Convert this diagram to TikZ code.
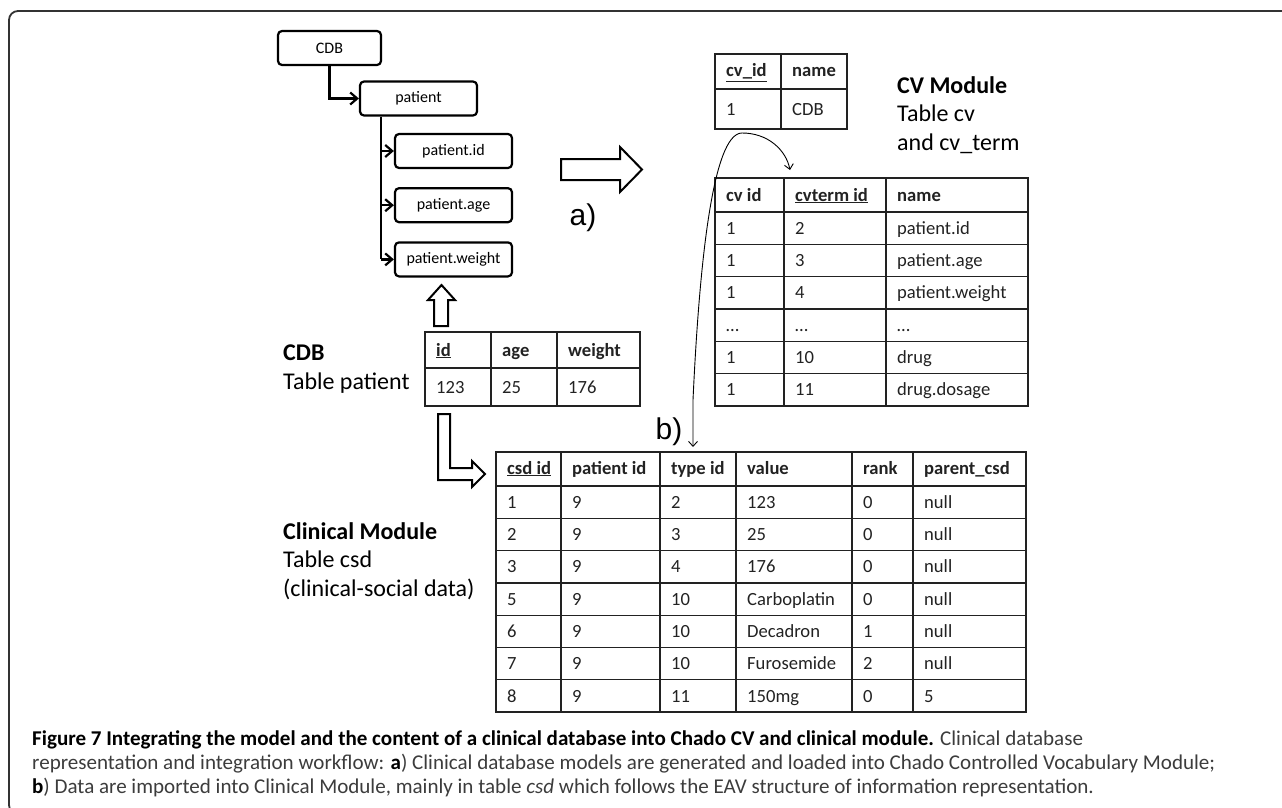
\documentclass[tikz,border=0pt]{standalone}
\usepackage{fontspec}
\setmainfont{Carlito}
\newfontfamily\steplabelfont{Liberation Sans}
\usetikzlibrary{arrows.meta,positioning}
\definecolor{inkgray}{HTML}{222222}
\definecolor{capgray}{HTML}{3C3C3C}
\tikzset{
  treebox/.style={draw, rounded corners=4pt, line width=2.2pt, minimum width=117pt, minimum height=34pt, font=\fontsize{16}{19}\selectfont},
  treearrow/.style={line width=2.2pt, -{Straight Barb[length=7pt,width=12pt]}},
  tablerule/.style={draw=inkgray, line width=1.3pt},
  headrule/.style={draw=inkgray, line width=2.6pt},
  cell/.style={anchor=base west, inner sep=0pt, text=inkgray, font=\fontsize{18.6}{21}\selectfont},
  headcell/.style={cell, font=\fontsize{18.6}{21}\selectfont\bfseries},
  blockarrow/.style={draw, line width=2pt, line join=miter, fill=white},
  modlabel/.style={anchor=north west, inner sep=0pt, align=left, font=\fontsize{24}{28.5}\selectfont},
  steplabel/.style={inner sep=0pt, font=\steplabelfont\fontsize{30}{32}\selectfont}
}
\begin{document}
\begin{tikzpicture}[x=1pt, y=-1pt]
\useasboundingbox (0,0) rectangle (1282,808);
\draw[line width=1.8pt, draw=black!80, rounded corners=9pt] (1282,11) -| (9,814) -- (40,814);

\node[treebox, minimum width=103pt] (cdb) at (329.5,48) {CDB};
\node[treebox] (patient) at (418.5,98.5) {patient};
\node[treebox] (pid) at (453.5,151) {patient.id};
\node[treebox, below=18pt of pid] (page) {patient.age};
\node[treebox, below=18pt of page] (pweight) {patient.weight};
\draw[treearrow] (cdb.south) |- (patient.west);
\coordinate (trunk) at ([xshift=22pt]patient.south west);
\draw[line width=2.2pt] (trunk) -- (trunk |- pweight);
\foreach \n in {pid,page,pweight}
  \draw[treearrow] (trunk |- \n) -- (\n.west);

\draw[blockarrow] (434,326) -- (434,300) -- (428,300) -- (441.5,285) -- (455,300) -- (448,300) -- (448,326) -- cycle;
\draw[blockarrow] (561,159) -- (620,159) -- (620,147) -- (642,169.5) -- (620,192) -- (620,180) -- (561,180) -- cycle;
\draw[blockarrow] (438,414) -- (450,414) -- (450,468) -- (472,468) -- (472,461) -- (485,474) -- (472,487) -- (472,480) -- (438,480) -- cycle;
\node[steplabel] (alabel) at (583,218) {a)};
\node[steplabel] (blabel) at (669,432) {b)};

\node[modlabel] (cvlabel) at (897,76) {\textbf{CV Module}\\Table cv\\and cv\_term};
\node[modlabel] (cdblabel) at (283,345) {\textbf{CDB}\\Table patient};
\node[modlabel] (clinlabel) at (283,522) {\textbf{Clinical Module}\\Table csd\\(clinical-social data)};

\draw[tablerule] (715,54) rectangle (847,129);
\draw[tablerule] (781,54) -- (781,129);
\draw[tablerule] (715,89) -- (847,89);
\node[headcell] (cv-h1) at (726,77) {\underline{cv\_id}};
\node[headcell] (cv-h2) at (792,77) {name};
\node[cell] (cv-1-1) at (726,115) {1};
\node[cell] (cv-1-2) at (792,115) {CDB};

\draw[tablerule] (715,178) rectangle (1028,406);
\foreach \x in {784,886}
  \draw[tablerule] (\x,178) -- (\x,406);
\foreach \i in {1,...,5}
  \draw[tablerule] (715,212+\i*32.33) -- (1028,212+\i*32.33);
\draw[headrule] (715,212) -- (1028,212);
\foreach \t/\x [count=\c] in {cv id/726, \underline{cvterm id}/795, name/897}
  \node[headcell] (cvt-h\c) at (\x,201) {\t};
\foreach \ca/\cb/\cc [count=\r] in {1/2/patient.id, 1/3/patient.age, 1/4/patient.weight, \ldots/\ldots/\ldots, 1/10/drug, 1/11/drug.dosage}
  \foreach \t/\x [count=\c] in {\ca/726, \cb/795, \cc/897}
    \node[cell] (cvt-\r-\c) at (\x,212+\r*32.33-10) {\t};

\draw[tablerule] (425,332) rectangle (640,406);
\foreach \x in {491,557}
  \draw[tablerule] (\x,332) -- (\x,406);
\draw[tablerule] (425,368) -- (640,368);
\foreach \t/\x [count=\c] in {\underline{id}/436, age/502, weight/568}
  \node[headcell] (pt-h\c) at (\x,356) {\t};
\foreach \t/\x [count=\c] in {123/436, 25/502, 176/568}
  \node[cell] (pt-1-\c) at (\x,393) {\t};

\draw[tablerule] (496,452) rectangle (1026,712);
\foreach \x in {561,660,736,852,913}
  \draw[tablerule] (\x,452) -- (\x,712);
\foreach \i in {1,...,6}
  \draw[tablerule] (496,486+\i*32.29) -- (1026,486+\i*32.29);
\draw[headrule] (496,486) -- (1026,486);
\foreach \t/\x [count=\c] in {\underline{csd id}/507, patient id/572, type id/671, value/747, rank/863, parent\_csd/924}
  \node[headcell] (csd-h\c) at (\x,474) {\t};
\foreach \ca/\cb/\cc/\cd/\ce/\cf [count=\r] in {1/9/2/123/0/null, 2/9/3/25/0/null, 3/9/4/176/0/null, 5/9/10/Carboplatin/0/null, 6/9/10/Decadron/1/null, 7/9/10/Furosemide/2/null, 8/9/11/150mg/0/5}
  \foreach \t/\x [count=\c] in {\ca/507, \cb/572, \cc/671, \cd/747, \ce/863, \cf/924}
    \node[cell] (csd-\r-\c) at (\x,486+\r*32.29-10) {\t};

\coordinate (cvtip) at (790,170);
\coordinate (csdtip) at (693,447);
\draw[line width=0.9pt, {Straight Barb[length=5pt,width=9pt]}-{Straight Barb[length=5pt,width=9pt]}] (csdtip) -- (693,400) .. controls (699,270) and (712,133) .. (742,133) .. controls (768,133) and (786,150) .. (cvtip);

\node[anchor=north west, inner sep=0pt, font=\fontsize{20}{23}\selectfont] (caption) at (32,728)
  {\resizebox{1183pt}{!}{\begin{tabular}{@{}l@{}}
   \textbf{Figure 7 Integrating the model and the content of a clinical database into Chado CV and clinical module.} \textcolor{capgray}{Clinical database}\\
   \textcolor{capgray}{representation and integration workflow: {\color{black}\textbf{a}}) Clinical database models are generated and loaded into Chado Controlled Vocabulary Module;}\\
   {\color{black}\textbf{b}}\textcolor{capgray}{) Data are imported into Clinical Module, mainly in table \textit{csd} which follows the EAV structure of information representation.}
  \end{tabular}}};
\end{tikzpicture}
\end{document}
